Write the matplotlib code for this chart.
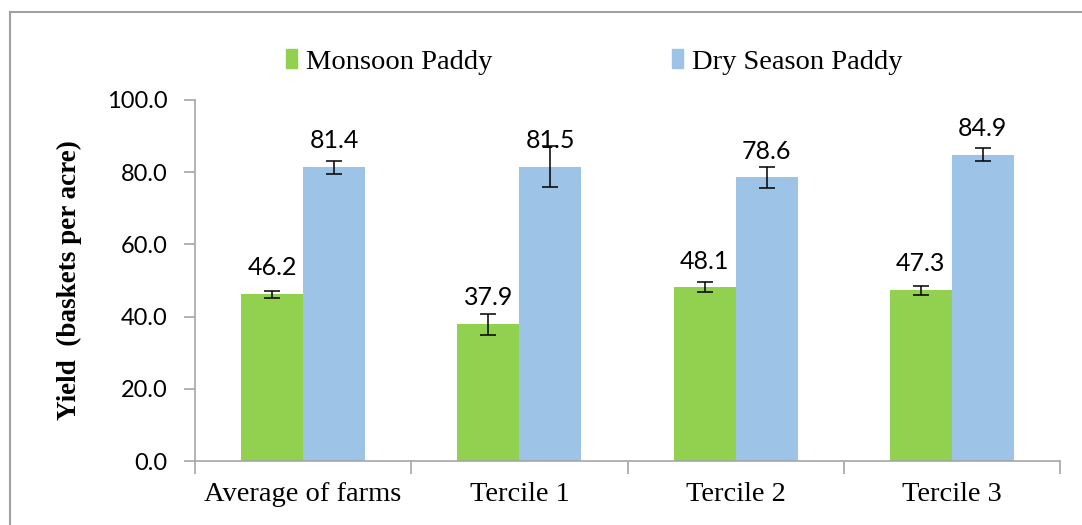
import numpy as np
import matplotlib
matplotlib.use("Agg")
import matplotlib.pyplot as plt
from matplotlib.patches import Rectangle, Patch

categories = ["Average of farms", "Tercile 1", "Tercile 2", "Tercile 3"]
monsoon = [46.2, 37.9, 48.1, 47.3]
monsoon_err = [1.0, 2.9, 1.4, 1.3]
dry = [81.4, 81.5, 78.6, 84.9]
dry_err = [1.8, 5.7, 2.9, 1.8]
series_names = ["Monsoon Paddy", "Dry Season Paddy"]
yticks = [0, 20, 40, 60, 80, 100]

green = "#92D050"
blue = "#9DC3E6"
axis_gray = "#A6A6A6"
serif = "Liberation Serif"
sans = "Lato"

fig = plt.figure(figsize=(10.82, 5.25), dpi=100)
ax = fig.add_axes([195 / 1082, 1 - 461 / 525, 865 / 1082, 361 / 525])

x = np.arange(len(categories))
w = 0.287
err_kw = dict(ecolor="black", elinewidth=1.1, capsize=6, capthick=1.1)
ax.bar(x - w / 2, monsoon, w, color=green, yerr=monsoon_err, error_kw=err_kw, zorder=2)
ax.bar(x + w / 2, dry, w, color=blue, yerr=dry_err, error_kw=err_kw, zorder=2)

for xs, vals in [(x - w / 2, monsoon), (x + w / 2, dry)]:
    for xi, v in zip(xs, vals):
        ax.annotate(f"{v:.1f}", (xi, v), xytext=(0, 13.5), textcoords="offset points",
                    ha="center", va="baseline", fontsize=18, family=sans, color="black")

ax.set_xlim(-0.5, len(categories) - 0.5)
ax.set_ylim(0, 100)
ax.set_yticks(yticks)
ax.set_yticklabels([f"{t:.1f}" for t in yticks], family=sans, fontsize=17)
ax.set_xticks(x)
ax.set_xticklabels(categories, family=serif, fontsize=20.5)
ax.tick_params(axis="x", length=0, pad=15)
# category boundary ticks
ax.set_xticks(np.arange(len(categories) + 1) - 0.5, minor=True)
ax.tick_params(axis="x", which="minor", length=9, color=axis_gray, width=1.2)
ax.tick_params(axis="y", length=8, color=axis_gray, width=1.2, pad=12)

for s in ["top", "right"]:
    ax.spines[s].set_visible(False)
for s in ["left", "bottom"]:
    ax.spines[s].set_color(axis_gray)
    ax.spines[s].set_linewidth(1.2)

ax.set_ylabel("Yield  (baskets per acre)", family=serif, fontweight="bold", fontsize=19.5, labelpad=18)

handles = [Patch(color=green), Patch(color=blue)]
fig.legend(handles, series_names, loc="center left", bbox_to_anchor=(286 / 1082, 1 - 62 / 525),
           ncol=2, frameon=False, prop={"family": serif, "size": 20.5},
           handlelength=0.4, handleheight=0.6, handletextpad=0.3, columnspacing=6.3,
           borderpad=0, borderaxespad=0)

fig.patches.append(Rectangle((10 / 1082, -0.1), 1.2, 1.1 - 12 / 525,
                             transform=fig.transFigure, fill=False,
                             edgecolor="#A0A0A0", linewidth=1.5))

fig.savefig("out.png", dpi=100)
